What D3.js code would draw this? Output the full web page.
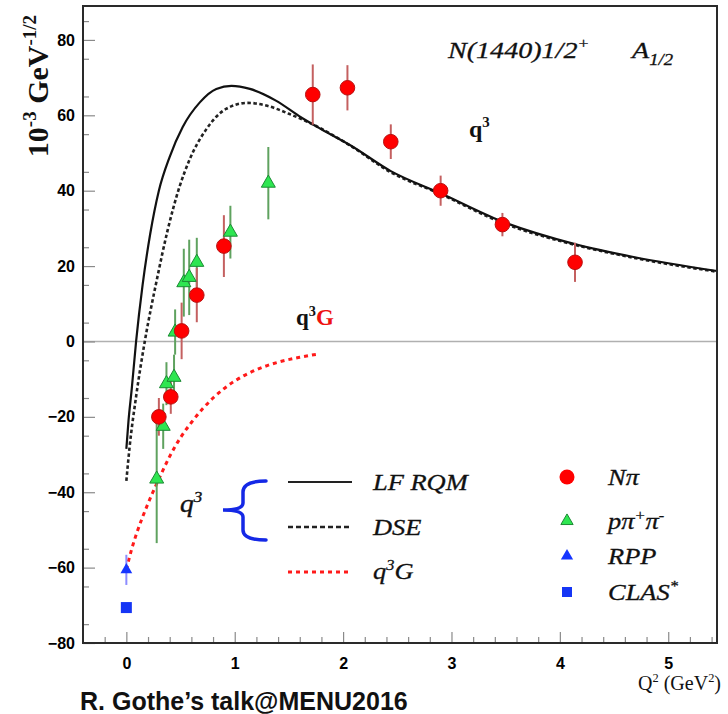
<!DOCTYPE html>
<html><head><meta charset="utf-8">
<script src="https://cdn.jsdelivr.net/npm/d3@7"></script>
<style>html,body{margin:0;padding:0;background:#fff;} svg{display:block;}</style>
</head><body>
<svg id="c" width="728" height="714"></svg>
<script>
// ---------------- data ----------------
// N pi (red circles)
const npiQ2  = [0.30, 0.41, 0.51, 0.65, 0.90, 1.72, 2.04, 2.44, 2.90, 3.47, 4.14];
const npiA   = [-20.0, -14.7, 2.8, 12.3, 25.3, 65.5, 67.3, 53.0, 40.0, 31.0, 21.0];
const npiErr = [5.0, 4.5, 7.5, 7.2, 8.2, 8.0, 6.0, 4.6, 4.0, 3.1, 5.2];
// p pi+ pi- (green triangles)
const ppQ2  = [0.28, 0.34, 0.37, 0.44, 0.45, 0.53, 0.58, 0.65, 0.96, 1.31];
const ppA   = [-36.5, -22.5, -11.2, -9.5, 2.5, 15.6, 17.0, 21.0, 29.0, 42.0];
const ppErr = [17.0, 6.0, 5.7, 6.0, 6.0, 9.0, 10.0, 6.5, 7.0, 9.6];
// RPP and CLAS* at the photon point
const rppQ2 = [0.0], rppA = [-60.6], rppErr = [4.0];
const clasQ2 = [0.0], clasA = [-70.6];
// LF RQM (solid curve)
const lfQ2 = [0.0, 0.02, 0.05, 0.09, 0.15, 0.22, 0.30, 0.40, 0.52, 0.68, 0.83, 0.97, 1.14, 1.38, 1.61, 1.80, 2.07, 2.44, 2.90, 3.46, 4.13, 4.68, 5.45];
const lfA  = [-28.5, -21.0, -12.5, 0.0, 15.0, 28.5, 40.0, 49.0, 56.9, 63.5, 67.0, 67.8, 67.0, 63.9, 59.5, 56.3, 52.0, 45.2, 39.3, 31.9, 25.9, 22.4, 18.7];
// DSE (dashed curve)
const dseQ2 = [0.0, 0.03, 0.09, 0.17, 0.28, 0.38, 0.49, 0.58, 0.74, 0.92, 1.12, 1.29, 1.50, 1.72, 2.07, 2.44, 2.90, 3.46, 4.13, 4.68, 5.45];
const dseA  = [-37.0, -28.0, -14.6, 0.0, 16.2, 29.4, 41.0, 48.0, 56.4, 61.7, 63.3, 62.6, 60.4, 57.6, 51.9, 44.9, 39.1, 31.6, 25.7, 22.2, 18.5];
// q^3 G (red dotted curve)
const gQ2 = [0.0, 0.05, 0.10, 0.20, 0.30, 0.40, 0.50, 0.60, 0.80, 1.00, 1.20, 1.40, 1.60, 1.78];
const gA  = [-60.5, -55.0, -50.5, -43.0, -36.5, -30.5, -25.5, -21.5, -15.0, -10.5, -7.5, -5.5, -4.2, -3.3];
// ticks
const xTicks = [0, 1, 2, 3, 4, 5];
const yTicks = [-80, -60, -40, -20, 0, 20, 40, 60, 80];
const curveNames = ["LF RQM", "DSE", "q3G"];
const dataNames = ["Nπ", "pπ+π-", "RPP", "CLAS*"];

// ---------------- layout ----------------
const svg = d3.select("#c");
const L = 83, R = 717, T = 6, B = 643;
const x = d3.scaleLinear().domain([-0.4, 5.45]).range([L, R]);
const y = d3.scaleLinear().domain([-80, 89]).range([B, T]);
const SERIF = "'Liberation Serif','Times New Roman',serif";
const SANS = "'Liberation Sans',Arial,sans-serif";

// zero line
svg.append("line").attr("x1", L).attr("x2", R).attr("y1", y(0)).attr("y2", y(0))
  .attr("stroke", "#b0b0b0").attr("stroke-width", 1.5);

// axes
const minorX = d3.range(-0.2, 5.45, 0.2).filter(v => Math.abs(v - Math.round(v)) > 1e-6);
const minorY = d3.range(-75, 89, 10);
const gx = svg.append("g").attr("transform", `translate(0,${B})`)
  .call(d3.axisBottom(x).tickValues(xTicks).tickSize(-11).tickPadding(15).tickFormat(d3.format("d")));
const gxm = svg.append("g").attr("transform", `translate(0,${B})`)
  .call(d3.axisBottom(x).tickValues(minorX).tickSize(-6).tickFormat(""));
const gy = svg.append("g").attr("transform", `translate(${L},0)`)
  .call(d3.axisLeft(y).tickValues(yTicks).tickSize(-12).tickPadding(8).tickFormat(d3.format("d")));
const gym = svg.append("g").attr("transform", `translate(${L},0)`)
  .call(d3.axisLeft(y).tickValues(minorY).tickSize(-6).tickFormat(""));
[gx, gxm, gy, gym].forEach(g => {
  g.select(".domain").remove();
  g.selectAll(".tick line").attr("stroke", "#8a8a8a").attr("stroke-width", 1.2);
  g.selectAll("text").attr("font-family", SANS).attr("font-weight", "bold")
    .attr("font-size", 16).attr("fill", "#000");
});

// curves
const line = d3.line().x(d => x(d[0])).y(d => y(d[1])).curve(d3.curveMonotoneX);
const zip = (a, b) => a.map((v, i) => [v, b[i]]);
svg.append("path").attr("d", line(zip(gQ2, gA))).attr("fill", "none")
  .attr("stroke", "#ff1a1a").attr("stroke-width", 3).attr("stroke-dasharray", "4,4");
svg.append("path").attr("d", line(zip(dseQ2, dseA))).attr("fill", "none")
  .attr("stroke", "#222").attr("stroke-width", 2.6).attr("stroke-dasharray", "3.5,2.5");
svg.append("path").attr("d", line(zip(lfQ2, lfA))).attr("fill", "none")
  .attr("stroke", "#111").attr("stroke-width", 2.2);

// error bars
function errBars(q, a, e, col) {
  svg.append("g").selectAll("line").data(q).join("line")
    .attr("x1", d => x(d)).attr("x2", d => x(d))
    .attr("y1", (d, i) => y(a[i] + e[i])).attr("y2", (d, i) => y(a[i] - e[i]))
    .attr("stroke", col).attr("stroke-width", 2);
}
errBars(ppQ2, ppA, ppErr, "#5fa25f");
errBars(npiQ2, npiA, npiErr, "#c46060");
errBars(rppQ2, rppA, rppErr, "#8c8cff");

const tri = d3.symbol().type(d3.symbolTriangle);
svg.append("g").selectAll("path").data(ppQ2).join("path")
  .attr("d", tri.size(85)())
  .attr("transform", (d, i) => `translate(${x(d)},${y(ppA[i])})`)
  .attr("fill", "#2ee651").attr("stroke", "#1c8a34").attr("stroke-width", 1);
svg.append("g").selectAll("circle").data(npiQ2).join("circle")
  .attr("cx", d => x(d)).attr("cy", (d, i) => y(npiA[i])).attr("r", 7.3)
  .attr("fill", "#ff0000").attr("stroke", "#b81010").attr("stroke-width", 1);
svg.append("g").selectAll("path").data(rppQ2).join("path")
  .attr("d", d3.symbol().type(d3.symbolTriangle).size(60)())
  .attr("transform", (d, i) => `translate(${x(d)},${y(rppA[i])})`)
  .attr("fill", "#1535ff");
svg.append("g").selectAll("rect").data(clasQ2).join("rect")
  .attr("x", d => x(d) - 5.5).attr("y", (d, i) => y(clasA[i]) - 5.5)
  .attr("width", 11).attr("height", 11).attr("fill", "#1535f5");

// ---------------- texts ----------------
function rich(xp, yp, parts, opt) {
  const t = svg.append("text").attr("x", 0).attr("y", 0)
    .attr("font-family", opt.family || SERIF)
    .attr("font-style", opt.italic ? "italic" : "normal")
    .attr("font-weight", opt.bold ? "bold" : "normal")
    .attr("font-size", opt.size).attr("fill", opt.fill || "#111")
    .attr("stroke", opt.heavy ? (opt.fill || "#111") : null)
    .attr("stroke-width", opt.heavy ? opt.heavy : null)
    .attr("text-anchor", opt.anchor || "start")
    .attr("transform", `translate(${xp},${yp})` + (opt.rot ? ` rotate(${opt.rot})` : "") + ` scale(${opt.sx || 1},1)`);
  let cur = 0;
  parts.forEach(p => {
    const shift = p.sup ? -opt.size * 0.4 : p.sub ? opt.size * 0.3 : 0;
    const ts = t.append("tspan").attr("dy", shift - cur)
      .attr("font-size", (p.sup || p.sub) ? (p.fs || opt.size * 0.62) : opt.size)
      .text(p.t);
    if (p.fill) ts.attr("fill", p.fill).attr("stroke", opt.heavy ? p.fill : null);
    cur = shift;
  });
  return t;
}
// y axis title
rich(48, 86, [{t: "10"}, {t: "-3", sup: 1, fs: 19}, {t: " GeV"}, {t: "-1/2", sup: 1, fs: 19}],
  {size: 30, bold: 1, rot: -90, anchor: "middle"});
// x axis title
rich(721, 690, [{t: "Q"}, {t: "2", sup: 1}, {t: " (GeV"}, {t: "2", sup: 1}, {t: ")"}],
  {size: 20, anchor: "end"});
// credit
rich(80, 710, [{t: "R. Gothe’s talk@MENU2016"}], {size: 25, bold: 1, family: SANS});
// header
rich(448, 58, [{t: "N(1440)1/2"}, {t: "+", sup: 1}], {size: 24, italic: 1, sx: 1.17, heavy: 0.3});
rich(632, 58, [{t: "A"}, {t: "1/2", sub: 1, fs: 16}], {size: 24, italic: 1, sx: 1.17, heavy: 0.3});
rich(469, 137, [{t: "q"}, {t: "3", sup: 1}], {size: 24, bold: 1});
rich(296, 325, [{t: "q"}, {t: "3", sup: 1}, {t: "G", fill: "#ee1111"}], {size: 23, bold: 1});

// left legend (curves)
const legY = [482, 527, 572];
const legStyles = [
  {stroke: "#222", w: 2.2, dash: null},
  {stroke: "#222", w: 2.4, dash: "5,3"},
  {stroke: "#ff1a1a", w: 3, dash: "4,4"}
];
legY.forEach((ly, i) => {
  svg.append("line").attr("x1", 288).attr("x2", 352).attr("y1", ly).attr("y2", ly)
    .attr("stroke", legStyles[i].stroke).attr("stroke-width", legStyles[i].w)
    .attr("stroke-dasharray", legStyles[i].dash);
});
rich(373, 490, [{t: curveNames[0]}], {size: 23, italic: 1, sx: 1.15, heavy: 0.3});
rich(373, 535, [{t: curveNames[1]}], {size: 23, italic: 1, sx: 1.15, heavy: 0.3});
rich(373, 579, [{t: "q"}, {t: "3", sup: 1}, {t: "G"}], {size: 23, italic: 1, sx: 1.15, heavy: 0.3});
rich(180, 512, [{t: "q"}, {t: "3", sup: 1}], {size: 25, italic: 1, sx: 1.1, heavy: 0.4});
svg.append("path")
  .attr("d", "M266,481 Q243,481 243,492 L243,503 Q243,510 223,510 Q243,510 243,517 L243,530 Q243,540 266,540")
  .attr("fill", "none").attr("stroke", "#1428e6").attr("stroke-width", 3.5).attr("stroke-linecap", "round");

// right legend (data)
const symY = [477, 521, 556, 592];
svg.append("circle").attr("cx", 567).attr("cy", symY[0]).attr("r", 7.5).attr("fill", "#ff0000");
svg.append("path").attr("d", d3.symbol().type(d3.symbolTriangle).size(65)())
  .attr("transform", `translate(567,${symY[1]})`).attr("fill", "#2ee651").attr("stroke", "#1c8a34");
svg.append("path").attr("d", d3.symbol().type(d3.symbolTriangle).size(65)())
  .attr("transform", `translate(567,${symY[2]})`).attr("fill", "#1535ff");
svg.append("rect").attr("x", 562).attr("y", symY[3] - 5).attr("width", 10).attr("height", 10).attr("fill", "#1535f5");
rich(608, 485, [{t: "Nπ"}], {size: 23, italic: 1, sx: 1.15, heavy: 0.3});
rich(608, 529, [{t: "pπ"}, {t: "+", sup: 1}, {t: "π"}, {t: "-", sup: 1}], {size: 23, italic: 1, sx: 1.15, heavy: 0.3});
rich(608, 564, [{t: "RPP"}], {size: 23, italic: 1, sx: 1.15, heavy: 0.3});
rich(608, 600, [{t: "CLAS"}, {t: "*", sup: 1}], {size: 23, italic: 1, sx: 1.15, heavy: 0.3});

// frame
svg.append("rect").attr("x", L).attr("y", T).attr("width", R - L).attr("height", B - T)
  .attr("fill", "none").attr("stroke", "#2a2a2a").attr("stroke-width", 2);
</script>
</body></html>
